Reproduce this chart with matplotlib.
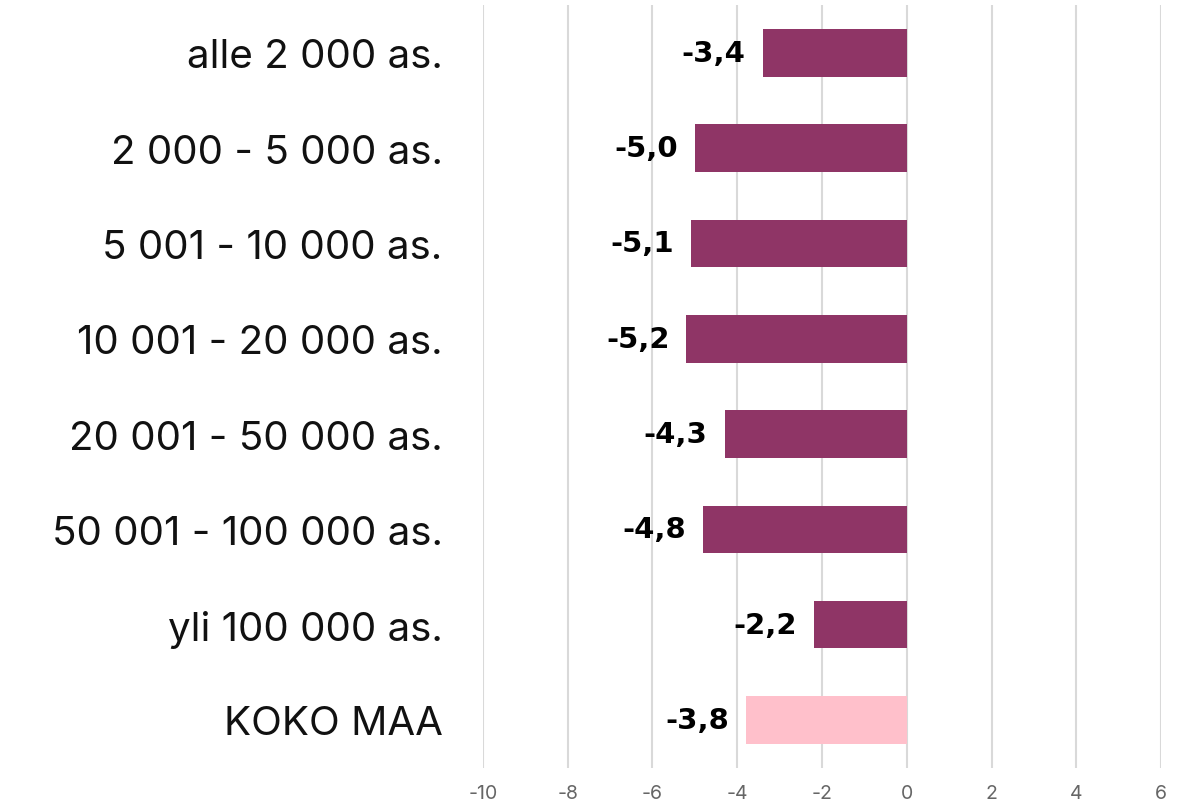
import matplotlib
matplotlib.use("Agg")
import matplotlib.pyplot as plt
import numpy as np

# municipality size groups, top to bottom
categories = [
    "alle 2 000 as.",
    "2 000 - 5 000 as.",
    "5 001 - 10 000 as.",
    "10 001 - 20 000 as.",
    "20 001 - 50 000 as.",
    "50 001 - 100 000 as.",
    "yli 100 000 as.",
    "KOKO MAA",
]
values = [-3.4, -5.0, -5.1, -5.2, -4.3, -4.8, -2.2, -3.8]
xticks = [-10, -8, -6, -4, -2, 0, 2, 4, 6]

main_color = "#8F3566"
total_color = "#FFC0CB"
colors = [main_color] * (len(values) - 1) + [total_color]

fig = plt.figure(figsize=(11.89, 8.04), dpi=100)
ax = fig.add_axes([0.4062, 0.044, 0.5703, 0.9484])

y = np.arange(len(categories))
ax.barh(y, values, height=0.5, color=colors, zorder=3)

# value labels left of the bar ends
for yi, v in zip(y, values):
    ax.text(v - 0.4, yi, f"{v:.1f}".replace(".", ","), ha="right", va="center",
            fontsize=21, fontweight="heavy", color="black", family="DejaVu Sans")

ax.set_xlim(-10, 6)
ax.set_ylim(len(categories) - 0.5, -0.5)
ax.set_xticks(xticks)
ax.set_xticklabels([str(t) for t in xticks], fontsize=14, color="#666666", family="Inter")
ax.set_yticks(y)
ax.set_yticklabels(categories, fontsize=29, color="#111111", family="Inter")
ax.tick_params(axis="both", length=0)
ax.tick_params(axis="y", pad=29)
ax.tick_params(axis="x", pad=12)

ax.grid(axis="x", color="#d9d9d9", linewidth=1.5, zorder=0)
for s in ax.spines.values():
    s.set_visible(False)

fig.savefig("out.png", dpi=100)
